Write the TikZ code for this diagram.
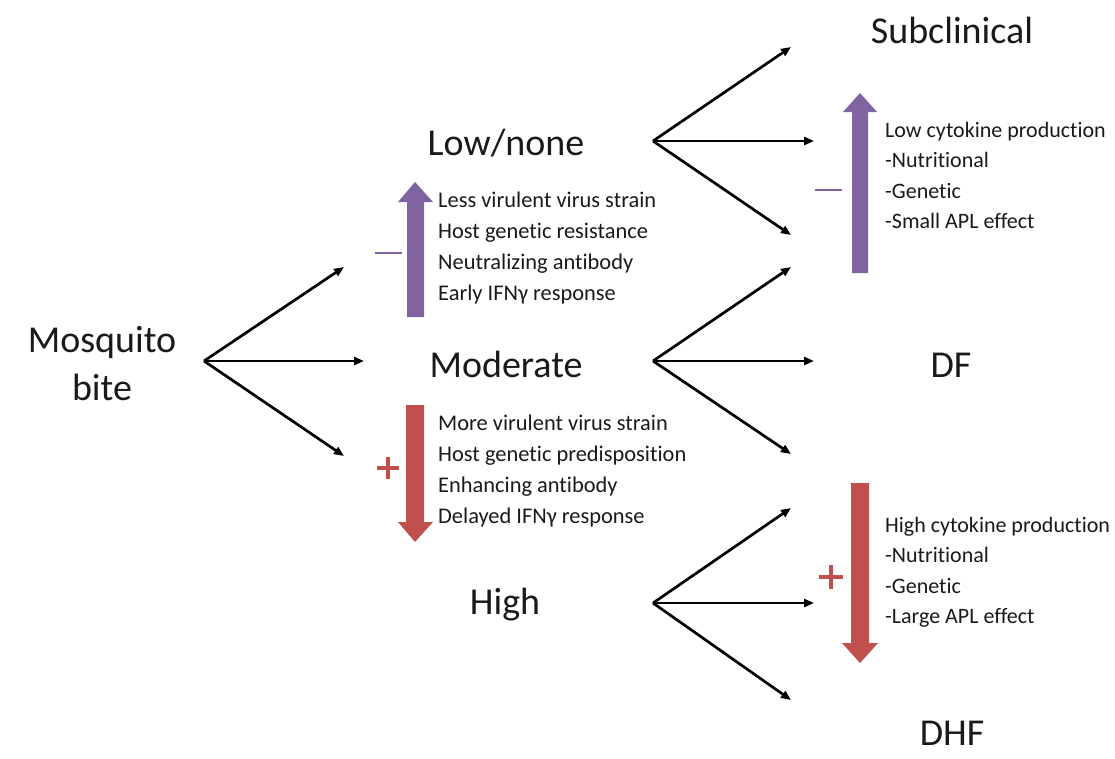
\documentclass[tikz,border=0pt]{standalone}
\usepackage{fontspec}
\setmainfont{Carlito}[Ligatures={NoCommon}]
\usetikzlibrary{arrows.meta}
\definecolor{purp}{HTML}{8064A2}
\definecolor{redb}{HTML}{C0504D}
\definecolor{txt}{HTML}{1A1A1A}
\begin{document}
\begin{tikzpicture}[x=1pt,y=-1pt,
  arr/.style={line width=2.7pt,-{Triangle[length=10pt,width=8pt]}},
  big/.style={font=\fontsize{38}{46}\selectfont, anchor=base, inner sep=0pt, text=txt},
  lsm/.style={font=\fontsize{22.4}{30}\selectfont, anchor=base west, inner sep=0pt, text=txt},
  rsm/.style={font=\fontsize{22}{28}\selectfont, anchor=base west, inner sep=0pt, text=txt},
  minus/.style={line width=2.6pt},
  plus/.style={line width=3.4pt}]
\useasboundingbox (0,0) rectangle (1115,758);
\fill[white] (0,0) rectangle (1115,758);
% main labels
\node[big] (mos) at (102,352) {Mosquito};
\node[big] (bite) at (102,400) {bite};
\node[big] (low) at (506,155) {Low/none};
\node[big] (mod) at (506,377) {Moderate};
\node[big] (high) at (505,614) {High};
\node[big] (sub) at (952,43) {Subclinical};
\node[big] (df) at (951,377) {DF};
\node[big] (dhf) at (952,745) {DHF};
% fork origins
\coordinate (oM) at (204,361);
\coordinate (oL) at (653,141);
\coordinate (oD) at (653,361);
\coordinate (oH) at (653,603);
% targets
\coordinate (tM1) at (344,267);
\coordinate (tM2) at (364,361);
\coordinate (tM3) at (344,456);
\coordinate (tL1) at (791,47);
\coordinate (tL2) at (814,141);
\coordinate (tL3) at (791,235);
\coordinate (tD1) at (791,267);
\coordinate (tD2) at (814,361);
\coordinate (tD3) at (791,454);
\coordinate (tH1) at (791,508);
\coordinate (tH2) at (814,603);
\coordinate (tH3) at (791,700);
\foreach \o/\t in {oM/tM1,oM/tM2,oM/tM3,oL/tL1,oL/tL2,oL/tL3,oD/tD1,oD/tD2,oD/tD3,oH/tH1,oH/tH2,oH/tH3}
  \draw[arr] (\o) -- (\t);
% block arrows
\fill[purp] (407,317) -- (407,202) -- (398,202) -- (415,182) -- (433,202) -- (424,202) -- (424,317) -- cycle;
\fill[redb] (406,405) -- (406,522) -- (398,522) -- (415,542) -- (433,522) -- (424,522) -- (424,405) -- cycle;
\fill[purp] (852,273) -- (852,112) -- (843,112) -- (860,93) -- (877,112) -- (868,112) -- (868,273) -- cycle;
\fill[redb] (851,483) -- (851,643) -- (842,643) -- (860,663) -- (878,643) -- (869,643) -- (869,483) -- cycle;
% signs
\draw[purp,minus] (375,253) -- (402,253);
\draw[purp,minus] (815,190) -- (842,190);
\draw[redb,plus] (377,468) -- (399,468) (388,457) -- (388,479);
\draw[redb,plus] (819,577) -- (843,577) (831,565) -- (831,589);
% left texts
\foreach \s [count=\i] in {Less virulent virus strain,Host genetic resistance,Neutralizing antibody,Early IFNγ response}
  \node[lsm] (lp\i) at (438,{207+31*(\i-1)}) {\s};
\foreach \s [count=\i] in {More virulent virus strain,Host genetic predisposition,Enhancing antibody,Delayed IFNγ response}
  \node[lsm] (lr\i) at (438,{430+31*(\i-1)}) {\s};
% right texts
\foreach \s [count=\i] in {Low cytokine production,-Nutritional,-Genetic,-Small APL effect}
  \node[rsm] (rp\i) at (885,{137+30.5*(\i-1)}) {\s};
\foreach \s [count=\i] in {High cytokine production,-Nutritional,-Genetic,-Large APL effect}
  \node[rsm] (rr\i) at (885,{532+30.5*(\i-1)}) {\s};
\end{tikzpicture}
\end{document}
